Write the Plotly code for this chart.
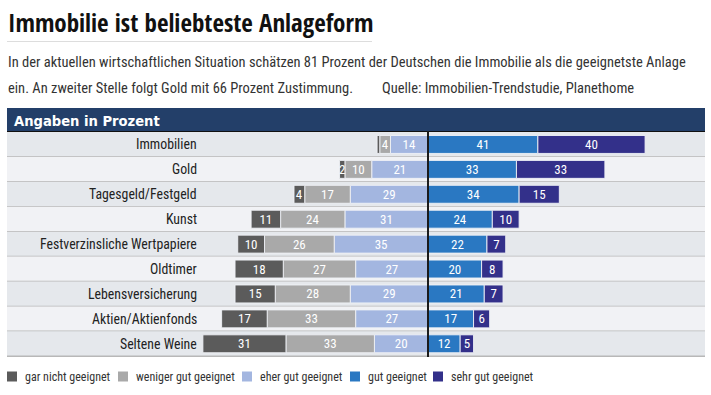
import plotly.graph_objects as go

# ---------------- data ----------------
categories = ["Immobilien", "Gold", "Tagesgeld/Festgeld", "Kunst",
              "Festverzinsliche Wertpapiere", "Oldtimer", "Lebensversicherung",
              "Aktien/Aktienfonds", "Seltene Weine"]
gar_nicht = [1, 2, 4, 11, 10, 18, 15, 17, 31]
weniger_gut = [4, 10, 17, 24, 26, 27, 28, 33, 33]
eher_gut = [14, 21, 29, 31, 35, 27, 29, 27, 20]
gut = [41, 33, 34, 24, 22, 20, 21, 17, 12]
sehr_gut = [40, 33, 15, 10, 7, 8, 7, 6, 5]
series_names = ["gar nicht geeignet", "weniger gut geeignet", "eher gut geeignet",
                "gut geeignet", "sehr gut geeignet"]
colors = ["#5b5b5b", "#a9a9a9", "#a3b6e0", "#2a78c2", "#33308a"]

title = "Immobilie ist beliebteste Anlageform"
sub1 = "In der aktuellen wirtschaftlichen Situation schätzen 81 Prozent der Deutschen die Immobilie als die geeignetste Anlage"
sub2 = "ein. An zweiter Stelle folgt Gold mit 66 Prozent Zustimmung."
source = "Quelle: Immobilien-Trendstudie, Planethome"
header = "Angaben in Prozent"

FONT = "Roboto Condensed, DejaVu Sans Condensed, sans-serif"
TFONT = "Open Sans Condensed, Roboto Condensed, sans-serif"
HFONT = "DejaVu Sans Condensed, Roboto Condensed, sans-serif"

# ---------------- layout helpers (pixel -> paper) ----------------
W, H = 711, 395
PL, PR, PT, PB = 7, 705, 132, 357
def px_x(p):
    return (p - PL) / (PR - PL)
def px_y(p):
    return (PB - p) / (PB - PT)

fig = go.Figure()

def lbl(vals, minv=2):
    return [str(v) if v >= minv else "" for v in vals]

BAR_LINE = dict(color="rgba(240,242,246,0.9)", width=1)
left = [(eher_gut, 2), (weniger_gut, 1), (gar_nicht, 0)]
for vals, ci in left:
    fig.add_trace(go.Bar(
        y=categories, x=[-v for v in vals], orientation="h",
        marker=dict(color=colors[ci], line=BAR_LINE),
        text=lbl(vals), textposition="inside", insidetextanchor="middle",
        textfont=dict(color="white", size=13, family=FONT), textangle=0,
        name=series_names[ci], showlegend=False, hoverinfo="skip"))
for vals, ci in [(gut, 3), (sehr_gut, 4)]:
    fig.add_trace(go.Bar(
        y=categories, x=vals, orientation="h",
        marker=dict(color=colors[ci], line=BAR_LINE),
        text=lbl(vals), textposition="inside", insidetextanchor="middle",
        textfont=dict(color="white", size=13, family=FONT), textangle=0,
        name=series_names[ci], showlegend=False, hoverinfo="skip"))

shapes = []
annotations = []
n = len(categories)
for i in range(n):
    shapes.append(dict(type="rect", xref="paper", yref="y", x0=0, x1=1,
                       y0=i - 0.5, y1=i + 0.5, layer="below", line=dict(width=0),
                       fillcolor="#e5e8ec" if i % 2 == 0 else "#f1f2f5"))
    shapes.append(dict(type="line", xref="paper", yref="y", x0=0, x1=1,
                       y0=i + 0.5, y1=i + 0.5, layer="below",
                       line=dict(color="#b8b8b8", width=1.5)))
    annotations.append(dict(xref="paper", yref="y", x=px_x(199), y=categories[i],
                            text=categories[i], showarrow=False, xanchor="right",
                            yanchor="middle", font=dict(size=13.8, color="#222", family=FONT)))

# header bar
shapes.append(dict(type="rect", xref="paper", yref="paper", x0=0, x1=1,
                   y0=px_y(131), y1=px_y(108), fillcolor="#233f69", line=dict(width=0)))
shapes.append(dict(type="line", xref="paper", yref="paper", x0=0, x1=1,
                   y0=px_y(131.5), y1=px_y(131.5), line=dict(color="#111", width=1)))
annotations.append(dict(xref="paper", yref="paper", x=px_x(12), y=px_y(120), text="<b>" + header + "</b>",
                        showarrow=False, xanchor="left", yanchor="middle",
                        font=dict(size=14.6, color="white", family=HFONT)))
# center line
shapes.append(dict(type="line", xref="x", yref="paper", x0=0, x1=0, y0=0, y1=px_y(131),
                   line=dict(color="#1a1a1a", width=2), layer="above"))

# title & subtitle
annotations.append(dict(xref="paper", yref="paper", x=px_x(6), y=px_y(22), text="<b>" + title + "</b>",
                        showarrow=False, xanchor="left", yanchor="middle",
                        font=dict(size=25, color="#111", family=TFONT)))
shapes.append(dict(type="line", xref="paper", yref="paper", x0=px_x(7), x1=px_x(372),
                   y0=px_y(41.5), y1=px_y(41.5), line=dict(color="#dddddd", width=1)))
annotations.append(dict(xref="paper", yref="paper", x=px_x(6), y=px_y(62), text=sub1,
                        showarrow=False, xanchor="left", yanchor="middle",
                        font=dict(size=14.5, color="#333", family=FONT)))
annotations.append(dict(xref="paper", yref="paper", x=px_x(6), y=px_y(88), text=sub2,
                        showarrow=False, xanchor="left", yanchor="middle",
                        font=dict(size=14.5, color="#333", family=FONT)))
annotations.append(dict(xref="paper", yref="paper", x=px_x(380), y=px_y(88), text=source,
                        showarrow=False, xanchor="left", yanchor="middle",
                        font=dict(size=14.5, color="#333", family=FONT)))

# manual legend
sq_x = [7, 118, 242, 350, 433]
tx_x = [23, 134, 258, 366, 449]
for k in range(5):
    shapes.append(dict(type="rect", xref="paper", yref="paper",
                       x0=px_x(sq_x[k]), x1=px_x(sq_x[k] + 10),
                       y0=px_y(381.5), y1=px_y(371.5), fillcolor=colors[k], line=dict(width=0)))
    annotations.append(dict(xref="paper", yref="paper", x=px_x(tx_x[k]), y=px_y(377),
                            text=series_names[k], showarrow=False, xanchor="left", yanchor="middle",
                            font=dict(size=12, color="#333", family=FONT)))

scale = 2.68
fig.update_layout(
    width=W, height=H, barmode="relative", bargap=0.28,
    margin=dict(l=PL, r=W - PR, t=PT, b=H - PB, pad=0),
    paper_bgcolor="white", plot_bgcolor="white",
    xaxis=dict(range=[-(428 - PL) / scale, (PR - 428) / scale], visible=False, fixedrange=True),
    yaxis=dict(categoryorder="array", categoryarray=categories, autorange="reversed",
               visible=False, fixedrange=True),
    uniformtext=dict(minsize=13, mode="show"),
    shapes=shapes, annotations=annotations, showlegend=False,
    font=dict(family=FONT),
)

fig.write_html("out.html", config={"displayModeBar": False})
with open("out.html", encoding="utf-8") as fh:
    html = fh.read()
html = html.replace("<head>", "<head><style>html,body{margin:0;padding:0;overflow:hidden;}</style>", 1)
with open("out.html", "w", encoding="utf-8") as fh:
    fh.write(html)
